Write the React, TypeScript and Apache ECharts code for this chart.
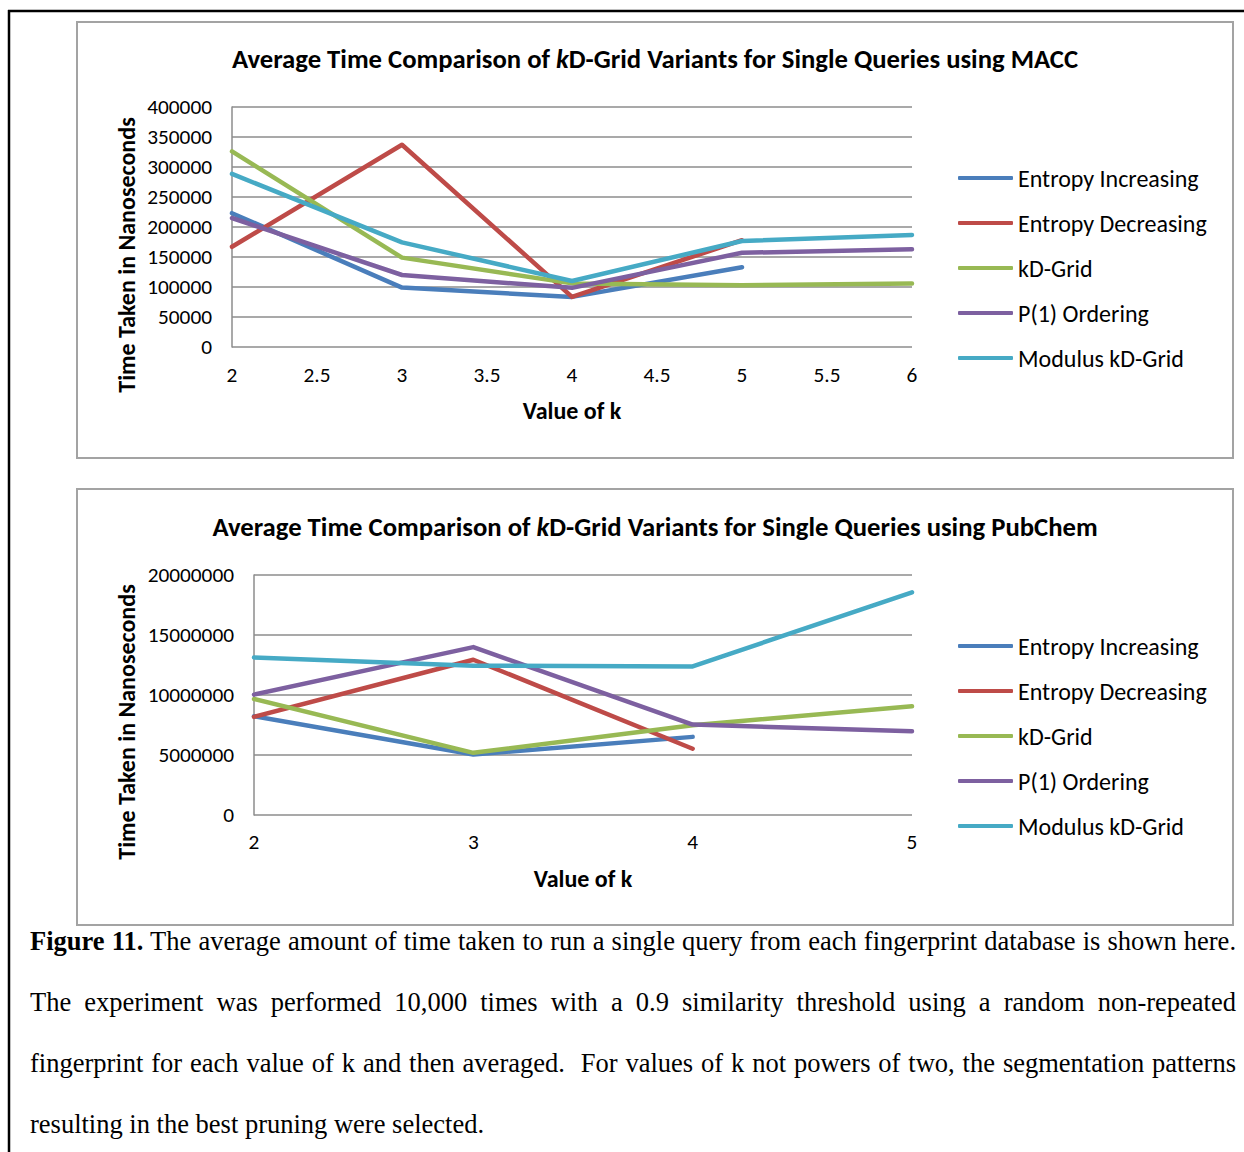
import React, { useEffect, useRef } from "react";
import * as echarts from "echarts";

const seriesNames = ["Entropy Increasing", "Entropy Decreasing", "kD-Grid", "P(1) Ordering", "Modulus kD-Grid"];
const seriesColors = ["#4a7ebb", "#be4b48", "#98b954", "#7d60a0", "#46aac5"];

// MACC chart
const maccK = [2, 3, 4, 5, 6];
const maccEntropyInc = [223000, 99000, 83500, 133000, null];
const maccEntropyDec = [167000, 337000, 83500, 178000, null];
const maccKdGrid = [326000, 149000, 106000, 103000, 106000];
const maccP1 = [215000, 120000, 98600, 157000, 163000];
const maccModulus = [288500, 174400, 110000, 176600, 186600];
const maccYTicks = { min: 0, max: 400000, interval: 50000 };
const maccXTicks = { min: 2, max: 6, interval: 0.5 };

// PubChem chart
const pubK = [2, 3, 4, 5];
const pubEntropyInc = [8230000, 5040000, 6510000, null];
const pubEntropyDec = [8180000, 12940000, 5520000, null];
const pubKdGrid = [9670000, 5180000, 7480000, 9060000];
const pubP1 = [10030000, 13990000, 7540000, 6980000];
const pubModulus = [13130000, 12440000, 12380000, 18560000];
const pubYTicks = { min: 0, max: 20000000, interval: 5000000 };
const pubXTicks = { min: 2, max: 5, interval: 1 };

const titlePrefix = "Average Time Comparison of ";
const titleItalic = "k";
const titleMiddle = "D-Grid Variants for Single Queries using ";
const titleMacc = "MACC";
const titlePub = "PubChem";
const yAxisTitle = "Time Taken in Nanoseconds";
const xAxisTitle = "Value of k";

const captionLines = [
  ["Figure 11.", " The average amount of time taken to run a single query from each fingerprint database is shown here."],
  ["", "The experiment was performed 10,000 times with a 0.9 similarity threshold using a random non-repeated"],
  ["", "fingerprint for each value of k and then averaged.  For values of k not powers of two, the segmentation patterns"],
  ["", "resulting in the best pruning were selected."],
];

const FONT = "Carlito, Lato, 'Noto Sans', sans-serif";

function pairs(xs: number[], ys: (number | null)[]) {
  return xs.map((x, i) => [x, ys[i]]).filter((p) => p[1] !== null);
}

export default function App() {
  const ref = useRef<HTMLDivElement>(null);
  useEffect(() => {
    if (!ref.current) return;
    const chart = echarts.init(ref.current, undefined, { renderer: "svg" });
    const maccData = [maccEntropyInc, maccEntropyDec, maccKdGrid, maccP1, maccModulus];
    const pubData = [pubEntropyInc, pubEntropyDec, pubKdGrid, pubP1, pubModulus];
    const gridColor = "#8c8c8c";
    const axisLabel = { color: "#000", fontFamily: FONT, fontSize: 21.3 };
    const mkX = (idx: number, t: any, margin: number) => ({
      type: "value",
      gridIndex: idx,
      min: t.min,
      max: t.max,
      interval: t.interval,
      axisLine: { show: false },
      axisTick: { show: false },
      splitLine: { show: false },
      axisLabel: { ...axisLabel, margin, formatter: (v: number) => String(v) },
      name: xAxisTitle,
      nameLocation: "middle",
      nameGap: 51,
      nameTextStyle: { color: "#000", fontFamily: FONT, fontSize: 24, fontWeight: "bold" },
    });
    const mkY = (idx: number, t: any) => ({
      type: "value",
      gridIndex: idx,
      min: t.min,
      max: t.max,
      interval: t.interval,
      axisLine: { show: true, lineStyle: { color: gridColor, width: 1.5 } },
      axisTick: { show: false },
      splitLine: { show: true, lineStyle: { color: gridColor, width: 1.5 } },
      axisLabel: { ...axisLabel, margin: 20, formatter: (v: number) => String(v) },
    });
    const mkSeries = (data: (number | null)[][], xs: number[], idx: number) =>
      data.map((d, i) => ({
        type: "line",
        name: seriesNames[i],
        xAxisIndex: idx,
        yAxisIndex: idx,
        data: pairs(xs, d),
        showSymbol: false,
        symbol: "none",
        color: seriesColors[i],
        lineStyle: { width: 4.5, color: seriesColors[i], cap: "round", join: "round" },
      }));
    const legend = (top: number) => ({
      orient: "vertical",
      left: 958,
      top,
      padding: 0,
      itemWidth: 55,
      itemHeight: 4,
      itemGap: 21,
      icon: "roundRect",
      data: seriesNames,
      selectedMode: false,
      textStyle: { color: "#000", fontFamily: FONT, fontSize: 24, lineHeight: 24, padding: [0, 0, 0, 0] },
    });
    const titleText = (name: string, y: number) => ({
      type: "text",
      x: 655,
      y,
      style: {
        text: `{b|${titlePrefix}}{i|${titleItalic}}{b|${titleMiddle}${name}}`,
        align: "center",
        verticalAlign: "middle",
        rich: {
          b: { fontFamily: FONT, fontSize: 26.7, fontWeight: "bold", fill: "#000" },
          i: { fontFamily: FONT, fontSize: 26.7, fontWeight: "bold", fontStyle: "italic", fill: "#000" },
        },
      },
    });
    const yName = (y: number) => ({
      type: "text",
      x: 126,
      y,
      rotation: Math.PI / 2,
      style: {
        text: yAxisTitle,
        align: "center",
        verticalAlign: "middle",
        fontFamily: FONT,
        fontSize: 24,
        fontWeight: "bold",
        fill: "#000",
      },
    });
    chart.setOption({
      animation: false,
      backgroundColor: "#fff",
      grid: [
        { left: 232, right: 332, top: 107, bottom: 805 },
        { left: 254, right: 332, top: 575, bottom: 337 },
      ],
      xAxis: [mkX(0, maccXTicks, 17), mkX(1, pubXTicks, 16)],
      yAxis: [mkY(0, maccYTicks), mkY(1, pubYTicks)],
      legend: [legend(166), legend(634)],
      series: [...mkSeries(maccData, maccK, 0), ...mkSeries(pubData, pubK, 1)],
      graphic: [
        { type: "line", shape: { x1: 8, y1: 11, x2: 1244, y2: 11 }, style: { stroke: "#000", lineWidth: 2.5 } },
        { type: "line", shape: { x1: 9, y1: 10, x2: 9, y2: 1152 }, style: { stroke: "#000", lineWidth: 2.5 } },
        { type: "rect", shape: { x: 77, y: 22, width: 1156, height: 436 }, style: { fill: "none", stroke: "#a3a3a3", lineWidth: 2 } },
        { type: "rect", shape: { x: 77, y: 489, width: 1156, height: 436 }, style: { fill: "none", stroke: "#a3a3a3", lineWidth: 2 } },
        titleText(titleMacc, 59),
        titleText(titlePub, 527),
        yName(255),
        yName(722),
      ],
    });
    return () => chart.dispose();
  }, []);

  return (
    <div style={{ position: "absolute", left: 0, top: 0, width: 1244, height: 1152, background: "#fff", overflow: "hidden" }}>
      <div ref={ref} style={{ position: "absolute", left: 0, top: 0, width: 1244, height: 1152 }} />
      <div
        style={{
          position: "absolute",
          left: 30,
          top: 911,
          width: 1206,
          fontFamily: "'Liberation Serif', 'Times New Roman', serif",
          fontSize: 26.5,
          lineHeight: "61px",
          color: "#000",
        }}
      >
        {captionLines.map((l, i) => (
          <div
            key={i}
            style={{
              textAlign: "justify",
              textAlignLast: i < captionLines.length - 1 ? "justify" : "left",
              whiteSpace: "pre-wrap",
            }}
          >
            {l[0] ? <b>{l[0]}</b> : null}
            {l[1]}
          </div>
        ))}
      </div>
    </div>
  );
}
